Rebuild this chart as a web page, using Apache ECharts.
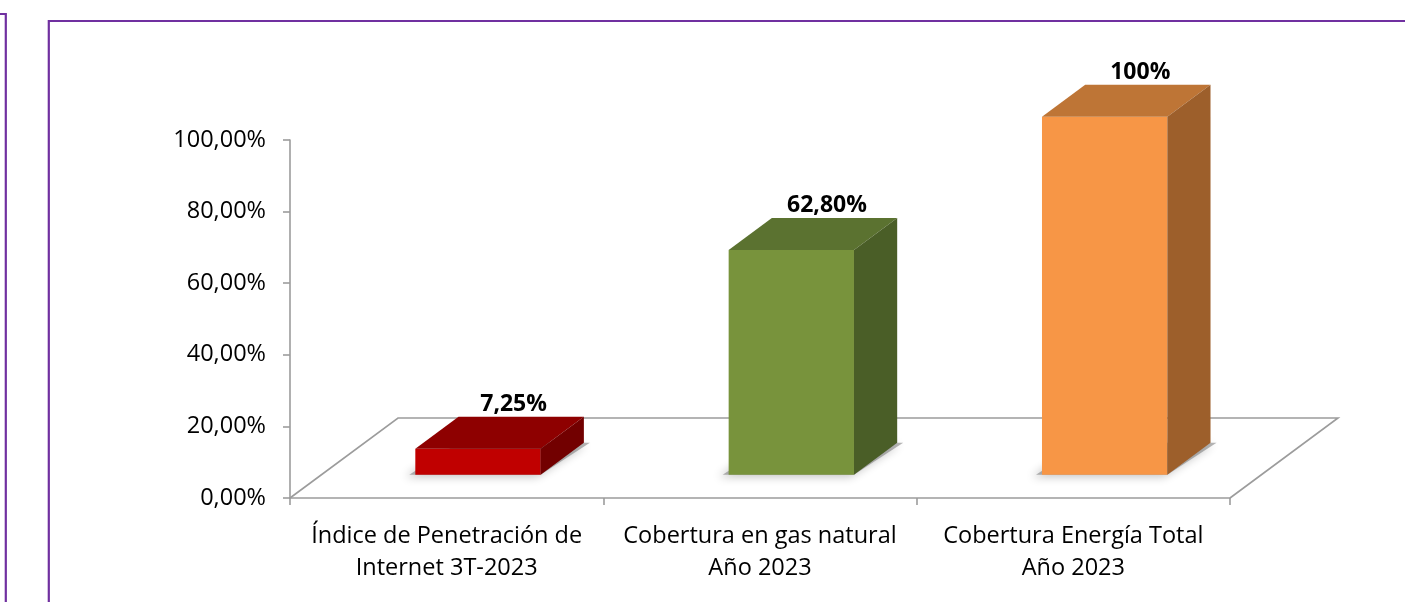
<!DOCTYPE html>
<html><head><meta charset="utf-8">
<script src="https://cdn.jsdelivr.net/npm/echarts@6/dist/echarts.min.js"></script>
<style>html,body{margin:0;padding:0;background:#fff}#c{width:1405px;height:602px}</style>
</head><body><div id="c"></div>
<script>
// ---- data ----
const categories = ['Índice de Penetración de\nInternet 3T-2023', 'Cobertura en gas natural\nAño 2023', 'Cobertura Energía Total\nAño 2023'];
const values = [7.25, 62.80, 100];
const valueLabels = ['7,25%', '62,80%', '100%'];
const yTicks = [0, 20, 40, 60, 80, 100];
const yTickLabels = ['0,00%', '20,00%', '40,00%', '60,00%', '80,00%', '100,00%'];

// ---- style ----
const faceColors = [
  { front: '#C00000', top: '#8E0000', side: '#720000' },
  { front: '#78933C', top: '#5B7230', side: '#4A5E27' },
  { front: '#F79646', top: '#BE7536', side: '#9D5F2B' }
];
const DEPTH_X = 108, DEPTH_Y = -80;
const BAR_D0 = 0.29, BAR_D1 = 0.69, BAR_W = 0.4;
const FONT = 'Open Sans';
const GRAY = '#9c9c9c';

function renderFloor(params, api) {
  const cs = params.coordSys;
  const x0 = cs.x, x1 = cs.x + cs.width, y0 = cs.y + cs.height;
  return {
    type: 'polyline',
    shape: { points: [[x0, y0], [x0 + DEPTH_X, y0 + DEPTH_Y], [x1 + DEPTH_X, y0 + DEPTH_Y], [x1, y0]] },
    style: { stroke: GRAY, lineWidth: 1.6, fill: null },
    silent: true
  };
}

function renderBar(params, api) {
  const i = api.value(0), v = api.value(1);
  const base = api.coord([i, 0]);
  const top = api.coord([i, v]);
  const band = api.size([1, 0])[0];
  const w = band * BAR_W;
  const h = base[1] - top[1];
  const fx0 = base[0] - w / 2 + BAR_D0 * DEPTH_X;
  const fy0 = base[1] + BAR_D0 * DEPTH_Y;
  const fx1 = fx0 + w, fyT = fy0 - h;
  const ddx = (BAR_D1 - BAR_D0) * DEPTH_X, ddy = (BAR_D1 - BAR_D0) * DEPTH_Y;
  const c = faceColors[i];
  return {
    type: 'group',
    children: [
      { type: 'polygon', shape: { points: [[fx0 - 6, fy0], [fx1, fy0], [fx1 + ddx + 6, fy0 + ddy], [fx0 + ddx, fy0 + ddy]] },
        style: { fill: 'rgba(120,120,120,0.55)', shadowBlur: 10, shadowColor: 'rgba(0,0,0,0.45)', shadowOffsetX: -4, shadowOffsetY: 2 } },
      { type: 'rect', shape: { x: fx0, y: fyT, width: w, height: h }, style: { fill: c.front } },
      { type: 'polygon', shape: { points: [[fx0, fyT], [fx1, fyT], [fx1 + ddx, fyT + ddy], [fx0 + ddx, fyT + ddy]] }, style: { fill: c.top } },
      { type: 'polygon', shape: { points: [[fx1, fy0], [fx1, fyT], [fx1 + ddx, fyT + ddy], [fx1 + ddx, fy0 + ddy]] }, style: { fill: c.side } },
      { type: 'text', style: { text: valueLabels[i], x: base[0] + 0.62 * DEPTH_X, y: fyT + ddy - 1, align: 'center', verticalAlign: 'bottom',
          font: 'bold 23px "' + FONT + '"', fill: '#000' } }
    ]
  };
}

const chart = echarts.init(document.getElementById('c'), null, { renderer: 'canvas' });
chart.setOption({
  animation: false,
  backgroundColor: '#fff',
  graphic: [
    { type: 'rect', shape: { x: 48.8, y: 21, width: 1500, height: 800 }, style: { fill: null, stroke: '#7030A0', lineWidth: 2.2 }, z: 100 },
    { type: 'rect', shape: { x: -200, y: 14, width: 205.8, height: 800 }, style: { fill: null, stroke: '#7030A0', lineWidth: 2.2 }, z: 100 }
  ],
  grid: { left: 290, right: 175, top: 140, bottom: 104 },
  xAxis: {
    type: 'category', data: categories, boundaryGap: true,
    axisLine: { show: true, lineStyle: { color: GRAY, width: 1.6 } },
    axisTick: { show: true, length: 7, lineStyle: { color: GRAY, width: 1.6 } },
    axisLabel: { color: '#000', fontFamily: FONT, fontSize: 23.5, lineHeight: 32, margin: 22, interval: 0 }
  },
  yAxis: {
    type: 'value', min: 0, max: 100, interval: 20,
    axisLine: { show: true, lineStyle: { color: GRAY, width: 1.6 } },
    axisTick: { show: true, length: 7, lineStyle: { color: GRAY, width: 1.6 } },
    splitLine: { show: false },
    axisLabel: { color: '#000', fontFamily: FONT, fontSize: 23.5, margin: 24, padding: [4, 0, 0, 0],
      formatter: v => { const k = yTicks.indexOf(v); return k >= 0 ? yTickLabels[k] : ''; } }
  },
  series: [
    { type: 'custom', renderItem: renderFloor, data: [[0, 0]], z: 1, silent: true },
    { type: 'custom', renderItem: renderBar, data: values.map((v, i) => [i, v]), z: 5 }
  ]
});
</script>
</body></html>
